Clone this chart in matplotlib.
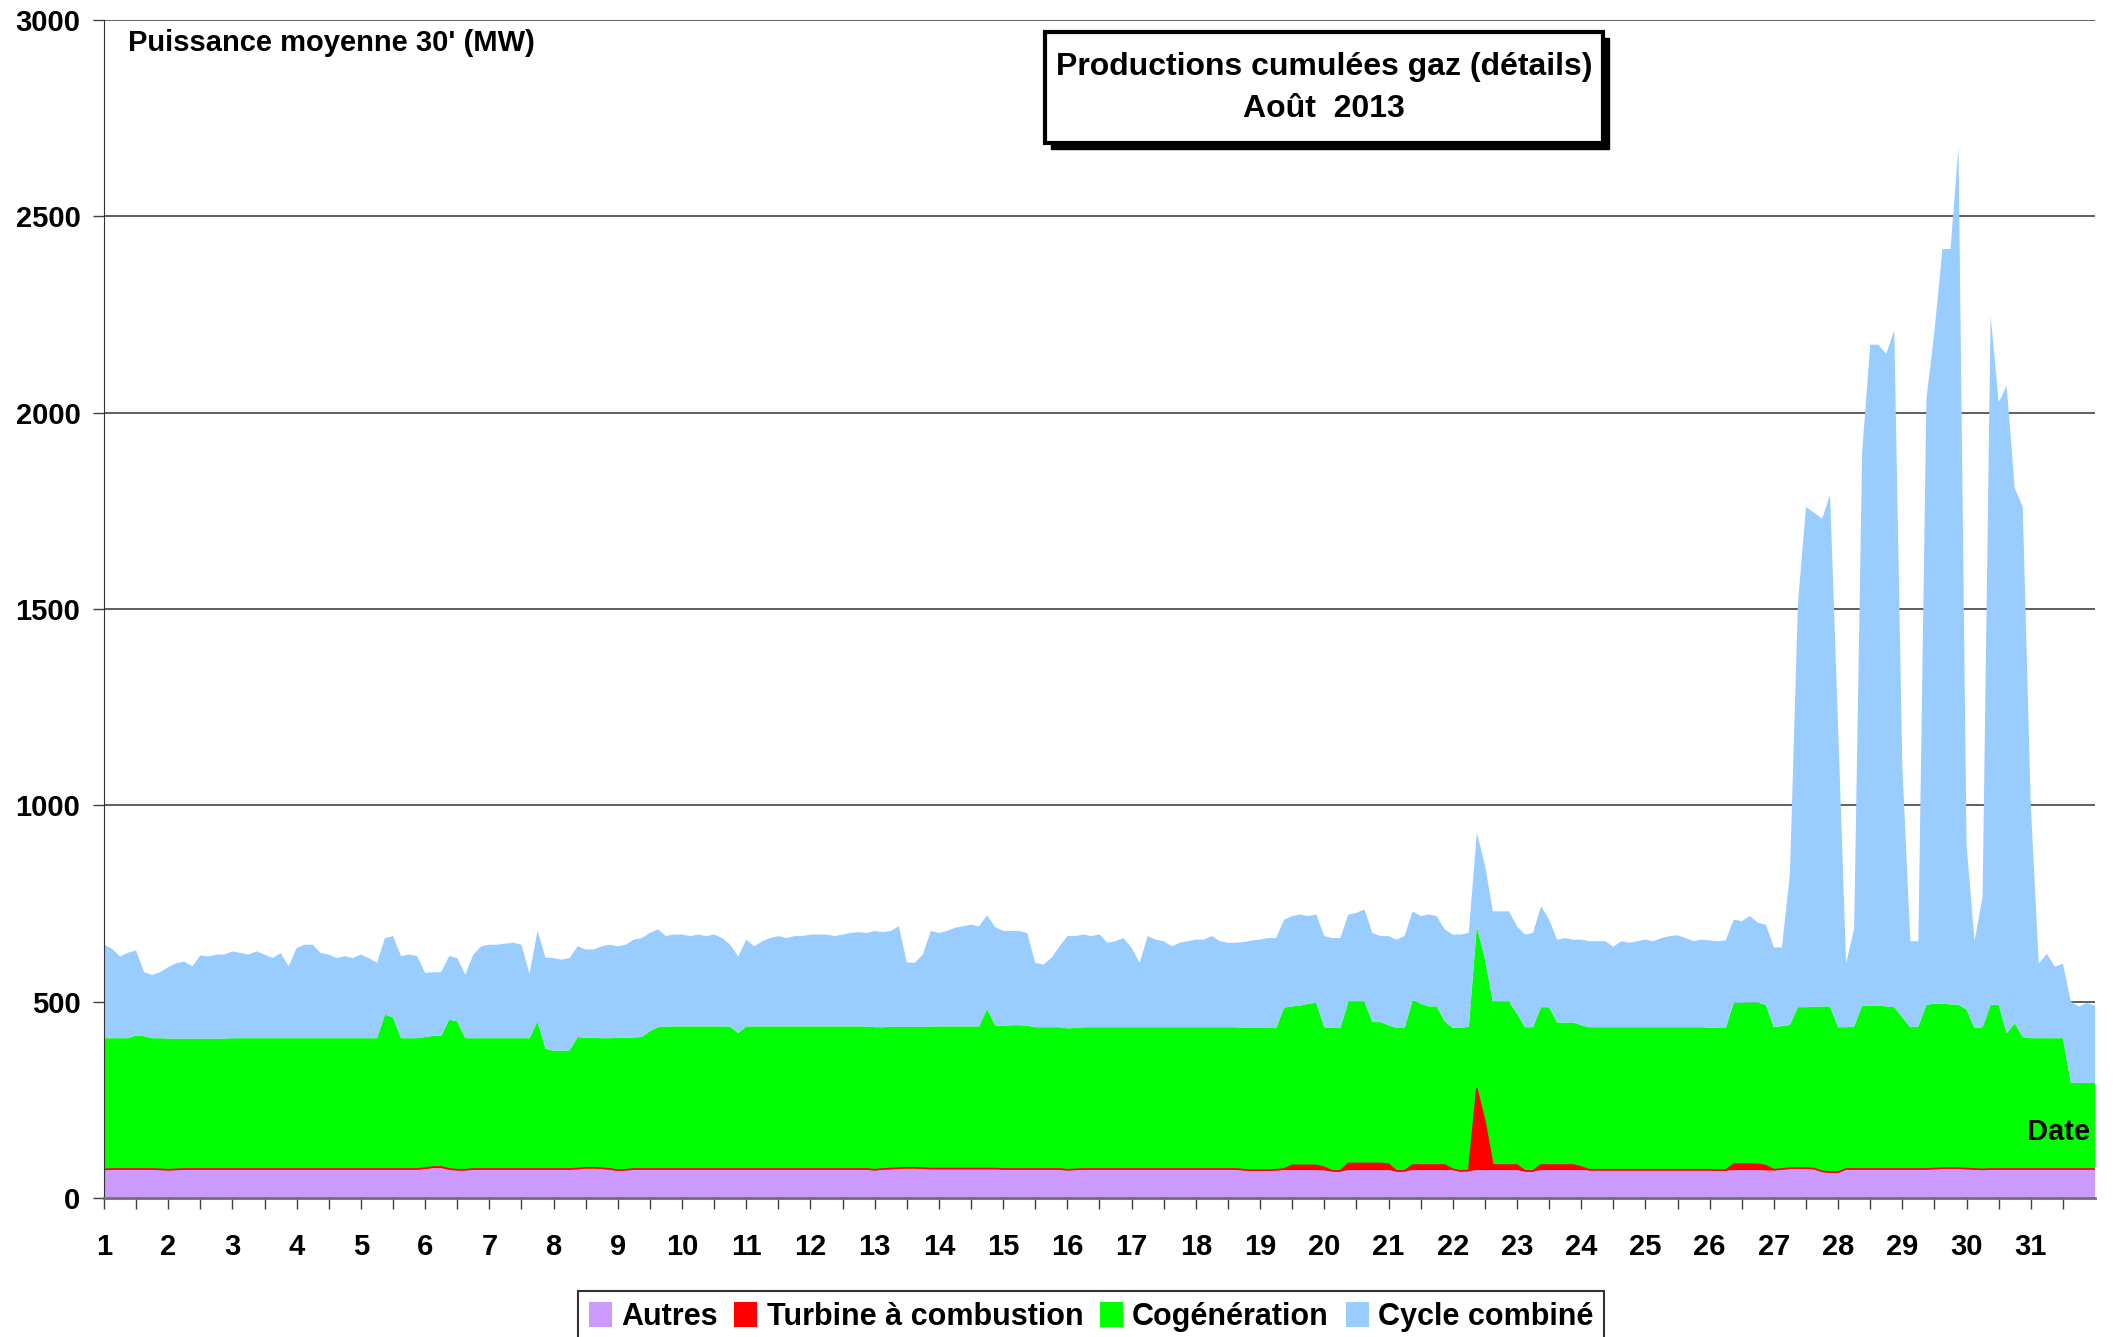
import numpy as np
import matplotlib.pyplot as plt
from matplotlib.patches import Patch, Rectangle

plt.rcParams['font.family'] = ['Liberation Sans', 'DejaVu Sans']
plt.rcParams['font.weight'] = 'bold'

# Pas de 3 heures, du 1er août 0h au 1er septembre 0h (axe en jours)
temps = np.arange(249) / 8 + 1

# Valeurs (MW), une ligne par jour
autres = [
    71, 72, 72, 72, 72, 72, 72, 71,
    70, 71, 72, 72, 72, 72, 72, 72,
    72, 72, 72, 72, 72, 72, 72, 72,
    72, 72, 72, 72, 72, 72, 72, 72,
    72, 72, 72, 72, 72, 72, 72, 72,
    74, 76, 76, 72, 70, 70, 72, 72,
    72, 72, 72, 72, 72, 72, 72, 72,
    72, 72, 72, 73, 75, 75, 74, 72,
    69, 70, 72, 72, 72, 72, 72, 72,
    72, 72, 72, 72, 72, 72, 72, 72,
    72, 72, 72, 72, 72, 72, 72, 72,
    72, 72, 72, 72, 72, 72, 72, 72,
    70, 72, 73, 74, 75, 75, 74, 73,
    73, 73, 73, 73, 73, 73, 73, 73,
    72, 72, 72, 72, 72, 72, 72, 72,
    70, 71, 72, 72, 72, 72, 72, 72,
    72, 72, 72, 72, 72, 72, 72, 72,
    72, 72, 72, 72, 72, 72, 70, 69,
    69, 69, 70, 71, 71, 71, 71, 71,
    70, 67, 67, 71, 71, 71, 71, 71,
    71, 67, 67, 71, 71, 71, 71, 71,
    71, 67, 68, 71, 71, 71, 71, 71,
    71, 67, 67, 71, 71, 71, 71, 71,
    71, 70, 70, 70, 70, 70, 70, 70,
    70, 70, 70, 70, 70, 70, 70, 70,
    70, 69, 69, 71, 71, 71, 71, 70,
    70, 72, 74, 74, 74, 73, 66, 64,
    64, 72, 72, 72, 72, 72, 72, 72,
    72, 72, 72, 72, 73, 74, 74, 74,
    73, 72, 71, 72, 72, 72, 72, 72,
    72, 72, 72, 72, 72, 72, 72, 72,
    72,
]

turbine = [
    2, 2, 2, 2, 2, 2, 2, 2,
    2, 2, 2, 2, 2, 2, 2, 2,
    2, 2, 2, 2, 2, 2, 2, 2,
    2, 2, 2, 2, 2, 2, 2, 2,
    2, 2, 2, 2, 2, 2, 2, 2,
    2, 3, 3, 2, 2, 2, 2, 2,
    2, 2, 2, 2, 2, 2, 2, 2,
    2, 2, 2, 2, 2, 2, 2, 2,
    2, 2, 2, 2, 2, 2, 2, 2,
    2, 2, 2, 2, 2, 2, 2, 2,
    2, 2, 2, 2, 2, 2, 2, 2,
    2, 2, 2, 2, 2, 2, 2, 2,
    2, 2, 2, 2, 2, 2, 2, 2,
    2, 2, 2, 2, 2, 2, 2, 2,
    2, 2, 2, 2, 2, 2, 2, 2,
    2, 2, 2, 2, 2, 2, 2, 2,
    2, 2, 2, 2, 2, 2, 2, 2,
    2, 2, 2, 2, 2, 2, 2, 2,
    2, 2, 2, 3, 12, 12, 12, 12,
    8, 2, 2, 17, 17, 17, 17, 17,
    15, 2, 2, 13, 13, 13, 13, 13,
    2, 2, 2, 207, 124, 13, 13, 13,
    13, 2, 2, 13, 13, 13, 13, 13,
    8, 2, 2, 2, 2, 2, 2, 2,
    2, 2, 2, 2, 2, 2, 2, 2,
    2, 2, 2, 15, 15, 15, 15, 12,
    2, 2, 2, 2, 2, 2, 2, 2,
    2, 2, 2, 2, 2, 2, 2, 2,
    2, 2, 2, 2, 2, 2, 2, 2,
    2, 2, 2, 2, 2, 2, 2, 2,
    2, 2, 2, 2, 2, 2, 2, 2,
    2,
]

cogeneration = [
    334, 333, 333, 333, 340, 338, 333, 334,
    334, 333, 332, 332, 332, 332, 332, 332,
    333, 333, 333, 333, 333, 333, 333, 333,
    333, 333, 333, 333, 333, 333, 333, 333,
    333, 333, 333, 393, 386, 333, 333, 333,
    334, 334, 334, 380, 378, 335, 333, 333,
    333, 333, 333, 333, 333, 333, 376, 306,
    301, 301, 302, 335, 331, 331, 331, 333,
    337, 336, 335, 336, 351, 361, 363, 363,
    363, 363, 363, 363, 363, 363, 363, 346,
    363, 363, 363, 363, 363, 363, 363, 363,
    363, 363, 363, 363, 363, 363, 363, 363,
    363, 361, 361, 360, 359, 359, 360, 362,
    362, 362, 362, 362, 362, 362, 407, 365,
    364, 366, 366, 365, 361, 361, 361, 361,
    360, 360, 361, 361, 361, 361, 361, 361,
    361, 361, 361, 361, 361, 361, 361, 361,
    361, 361, 361, 361, 361, 361, 361, 362,
    362, 362, 361, 411, 405, 407, 412, 414,
    357, 364, 364, 412, 412, 412, 360, 360,
    354, 364, 364, 419, 411, 404, 404, 366,
    360, 364, 366, 414, 414, 416, 416, 416,
    386, 366, 366, 402, 402, 363, 363, 363,
    361, 363, 363, 363, 363, 363, 363, 363,
    363, 363, 363, 363, 363, 363, 363, 363,
    362, 362, 362, 411, 411, 412, 412, 410,
    363, 364, 365, 410, 410, 412, 420, 422,
    369, 361, 363, 416, 416, 416, 414, 412,
    386, 361, 363, 418, 420, 419, 417, 416,
    405, 359, 362, 418, 418, 346, 371, 336,
    333, 333, 333, 333, 333, 219, 219, 219,
    219,
]

cycle_combine = [
    238, 228, 208, 218, 216, 163, 161, 168,
    182, 192, 196, 184, 212, 209, 214, 214,
    221, 217, 213, 221, 213, 204, 217, 183,
    230, 238, 238, 217, 213, 204, 209, 204,
    213, 204, 192, 195, 207, 209, 213, 209,
    163, 162, 162, 162, 161, 162, 213, 234,
    238, 238, 241, 243, 238, 164, 230, 232,
    236, 232, 235, 231, 225, 225, 234, 238,
    233, 237, 249, 252, 250, 249, 230, 234,
    234, 230, 234, 230, 234, 225, 208, 195,
    221, 204, 217, 225, 230, 225, 230, 230,
    234, 234, 234, 230, 234, 238, 240, 238,
    245, 242, 244, 256, 164, 163, 184, 243,
    238, 243, 251, 255, 259, 255, 238, 250,
    242, 240, 240, 236, 164, 159, 176, 205,
    235, 234, 236, 232, 236, 215, 219, 227,
    202, 164, 232, 223, 219, 206, 215, 219,
    223, 223, 232, 219, 215, 215, 219, 223,
    225, 229, 229, 224, 230, 232, 223, 225,
    232, 229, 229, 222, 226, 235, 227, 219,
    227, 225, 234, 227, 223, 234, 230, 234,
    238, 238, 239, 238, 241, 230, 230, 230,
    222, 236, 240, 257, 223, 211, 215, 211,
    218, 219, 219, 219, 205, 219, 215, 219,
    223, 219, 227, 232, 234, 227, 219, 223,
    222, 221, 223, 212, 208, 220, 203, 204,
    203, 200, 384, 1029, 1274, 1258, 1242, 1302,
    765, 162, 250, 1410, 1683, 1683, 1662, 1724,
    640, 219, 217, 1543, 1711, 1922, 1924, 2185,
    420, 221, 333, 1755, 1535, 1648, 1363, 1350,
    593, 190, 215, 182, 190, 207, 195, 204,
    197,
]

noms = ['Autres', 'Turbine à combustion', 'Cogénération', 'Cycle combiné']
couleurs = ['#CC99FF', '#FF0000', '#00FF00', '#99CCFF']
jours = list(range(1, 32))

W, H = 2116, 1337
fig = plt.figure(figsize=(W / 100, H / 100), dpi=100)
ax = fig.add_axes([104 / W, 1 - 1198 / H, (2095 - 104) / W, (1198 - 20) / H])

ax.stackplot(temps, autres, turbine, cogeneration, cycle_combine,
             colors=couleurs, linewidth=0)
# fine ligne rouge de la turbine a combustion
ax.plot(temps, np.array(autres) + np.array(turbine), color='#FF0000', lw=1.2)

ax.set_xlim(1, 32)
ax.set_ylim(0, 3000)
ax.set_yticks(range(0, 3001, 500))
ax.set_xticks(jours)
ax.set_xticklabels([str(j) for j in jours])
ax.set_xticks(np.arange(1.5, 32, 1), minor=True)

ax.yaxis.grid(True, color='#333333', linewidth=1.1)
ax.set_axisbelow(True)
for s in ['top', 'right']:
    ax.spines[s].set_visible(False)
ax.spines['left'].set_color('#333333')
ax.spines['bottom'].set_color('#707070')
ax.spines['bottom'].set_linewidth(2)

ax.tick_params(axis='x', which='both', direction='out', length=8, width=1,
               color='#404040', pad=17, labelsize=21)
ax.tick_params(axis='y', direction='out', length=8, width=1,
               color='#404040', pad=9, labelsize=21)

fig.text(128 / W, 1 - 43 / H, "Puissance moyenne 30' (MW)", fontsize=21,
         ha='left', va='center')
fig.text(2090 / W, 1 - 1132 / H, 'Date', fontsize=21, ha='right', va='center')

# cadre du titre avec ombre
x0, x1, y0, y1 = 1045, 1603, 32, 143
fig.add_artist(Rectangle(((x0 + 6) / W, 1 - (y1 + 6) / H), (x1 - x0) / W,
                         (y1 - y0) / H, transform=fig.transFigure,
                         facecolor='black', edgecolor='black', zorder=5))
fig.add_artist(Rectangle((x0 / W, 1 - y1 / H), (x1 - x0) / W, (y1 - y0) / H,
                         transform=fig.transFigure, facecolor='white',
                         edgecolor='black', lw=3, zorder=6))
fig.text((x0 + x1) / 2 / W, 1 - 67 / H, 'Productions cumulées gaz (détails)',
         fontsize=23, ha='center', va='center', zorder=7)
fig.text((x0 + x1) / 2 / W, 1 - 109 / H, 'Août  2013',
         fontsize=23, ha='center', va='center', zorder=7)

poignees = [Patch(facecolor=c, edgecolor='none') for c in couleurs]
leg = fig.legend(poignees, noms, loc='upper center',
                 bbox_to_anchor=(1091 / W, 1 - 1291 / H), ncol=4,
                 fontsize=22, frameon=True, fancybox=False,
                 handlelength=0.75, handleheight=0.9, handletextpad=0.3,
                 columnspacing=0.55, borderpad=0.35, borderaxespad=0)
leg.get_frame().set_edgecolor('black')
leg.get_frame().set_linewidth(1.5)

fig.savefig('out.png', dpi=100)
